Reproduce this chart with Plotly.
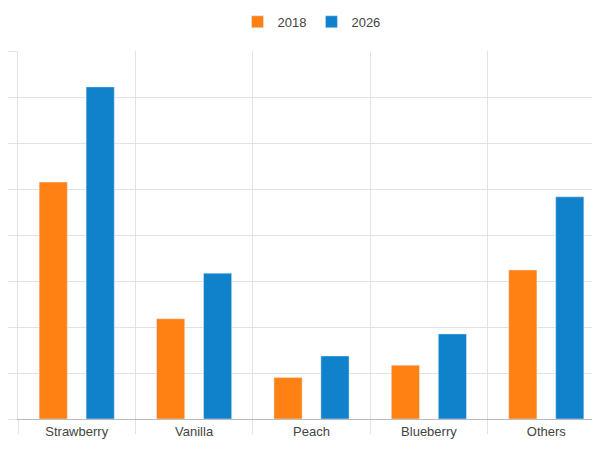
import plotly.graph_objects as go

categories = ["Strawberry", "Vanilla", "Peach", "Blueberry", "Others"]
v2018 = [5.15, 2.18, 0.9, 1.17, 3.24]
v2026 = [7.22, 3.17, 1.37, 1.85, 4.83]

fig = go.Figure()
fig.add_trace(go.Bar(name="2018", x=categories, y=v2018, marker_color="#ff8113"))
fig.add_trace(go.Bar(name="2026", x=categories, y=v2026, marker_color="#1081cb"))
fig.update_layout(
    width=600, height=452, barmode="group", bargap=0.2, bargroupgap=0.4,
    margin=dict(l=10, r=3, t=43, b=41, autoexpand=False),
    plot_bgcolor="white", paper_bgcolor="white",
    font=dict(family="Liberation Sans", size=13, color="#444"),
    legend=dict(orientation="h", x=0.5, xanchor="center", y=1.12, yanchor="top", font=dict(size=13)),
    showlegend=True,
)
fig.update_xaxes(tickson="boundaries", showgrid=True, gridcolor="#e3e3e3", ticks="outside",
                 ticklen=14, tickcolor="#e3e3e3", showline=True, linecolor="#bbb", linewidth=1,
                 automargin=False)
fig.update_yaxes(range=[0, 8], dtick=1, showgrid=True, gridcolor="#e3e3e3", showticklabels=False,
                 ticks="outside", ticklen=10, tickcolor="#e3e3e3", zeroline=False,
                 showline=True, linecolor="#e3e3e3", automargin=False)
fig.write_html("out.html")
